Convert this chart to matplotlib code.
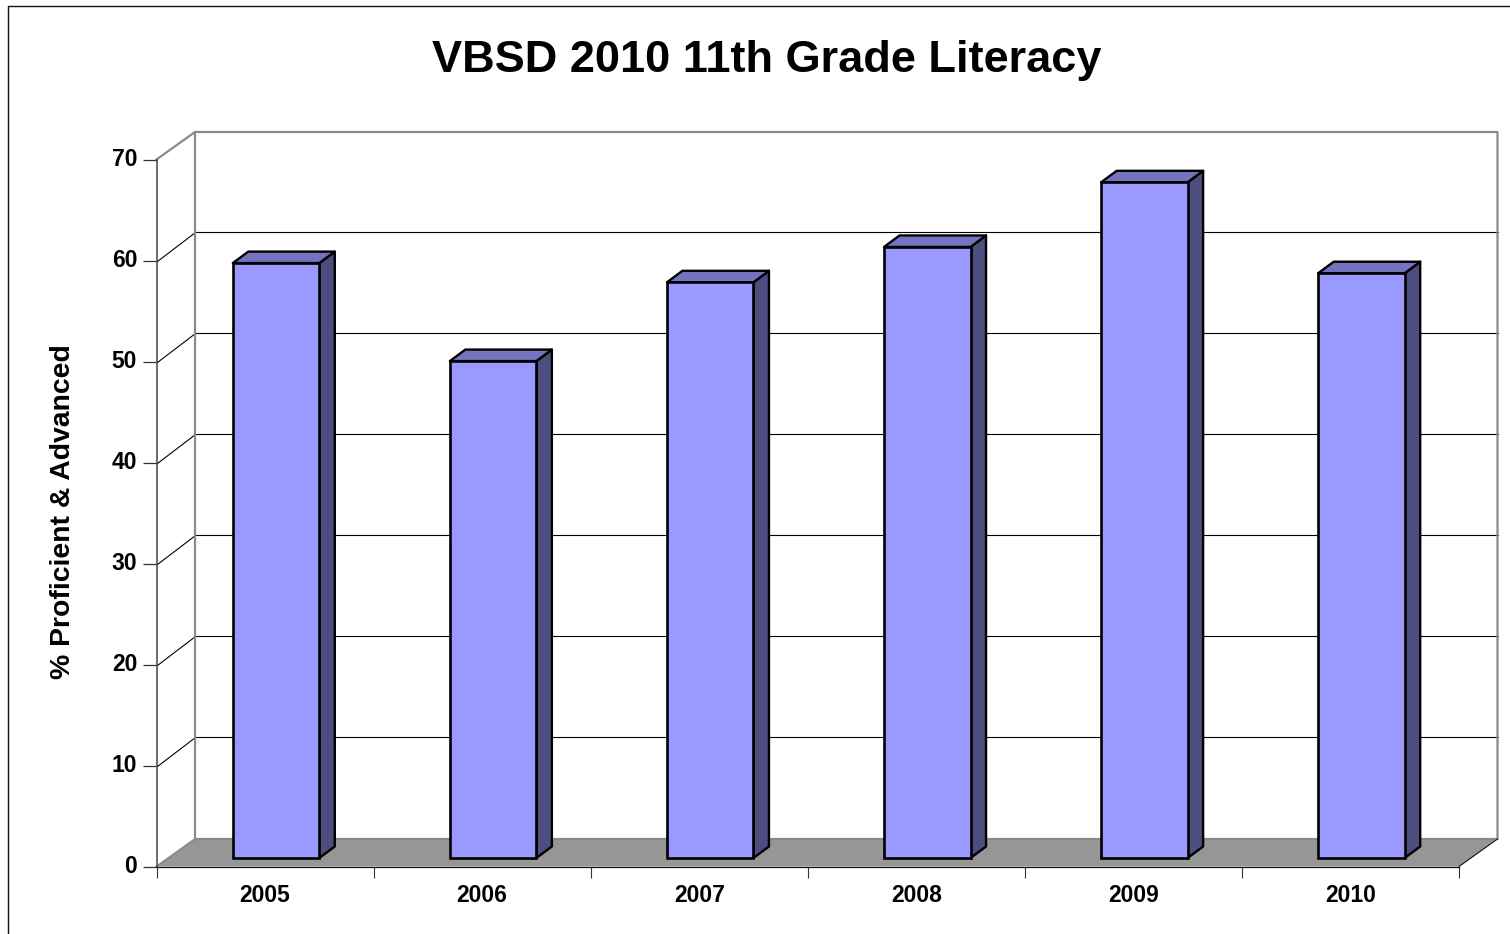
import matplotlib
matplotlib.use("Agg")
import matplotlib.pyplot as plt
from matplotlib.lines import Line2D
from matplotlib.patches import Polygon

years = ["2005", "2006", "2007", "2008", "2009", "2010"]
values = [58.9, 49.2, 57.0, 60.5, 66.9, 57.9]
y_ticks = [0, 10, 20, 30, 40, 50, 60, 70]
title = "VBSD 2010 11th Grade Literacy"
ylabel = "% Proficient & Advanced"

W, H = 1510, 934
plt.rcParams['font.family'] = ['Liberation Sans', 'DejaVu Sans']
fig = plt.figure(figsize=(W / 100, H / 100), dpi=100, facecolor='white')

# front plane of the pseudo-3D box, in pixels
L, R, B, T = 156.5, 1459, 866.5, 159.5
ax = fig.add_axes([L / W, 1 - B / H, (R - L) / W, (B - T) / H])
ax.set_xlim(0, 6)
ax.set_ylim(0, 70)
ax.patch.set_visible(False)

ux = (R - L) / 6      # px per category
uy = (B - T) / 70     # px per value unit
DX, DY = 38.5 / ux, 27.5 / uy      # box depth in data units
GDY = 28.8 / uy                    # gridline rise on the left wall
bdx, bdy = 15.5 / ux, 11.5 / uy    # bar depth in data units
bw = 86.5 / ux
xoff = 0.5 + 11.0 / ux
ybase = 8.5 / uy

WALL = '#8a8a8a'
# floor
ax.add_patch(Polygon([(0, 0), (DX, DY), (6 + DX, DY), (6, 0)], closed=True, fc='#969696', ec='none',
                     clip_on=False, zorder=1))
ax.plot([6, 6 + DX], [0, DY], color='#111111', lw=0.8, clip_on=False, zorder=1.5)
ax.plot([0, DX], [0, DY], color=WALL, lw=1.4, clip_on=False, zorder=1.5)

# gridlines on back wall and left wall
for v in y_ticks[1:-1]:
    ax.plot([0, DX, 6 + DX], [v, v + GDY, v + GDY], color='black', lw=0.8, clip_on=False, zorder=1.2,
            snap=True)

# wall outline
ax.plot([0, DX, 6 + DX, 6 + DX, DX, DX], [70, 70 + DY, 70 + DY, DY, DY, 70 + DY],
        color=WALL, lw=1.6, clip_on=False, zorder=1.3)

# bars
xs = [i + xoff for i in range(len(values))]
ax.bar(xs, values, width=bw, bottom=ybase, color='#9999FF', edgecolor='black', linewidth=1.9, zorder=3)
for x, v in zip(xs, values):
    x0, x1, y0, y1 = x - bw / 2, x + bw / 2, ybase, ybase + v
    ax.add_patch(Polygon([(x1, y0), (x1 + bdx, y0 + bdy), (x1 + bdx, y1 + bdy), (x1, y1)], closed=True,
                         fc='#4D4D80', ec='black', lw=1.7, joinstyle='round', clip_on=False, zorder=2.8))
    ax.add_patch(Polygon([(x0, y1), (x0 + bdx, y1 + bdy), (x1 + bdx, y1 + bdy), (x1, y1)], closed=True,
                         fc='#7373BF', ec='black', lw=1.7, joinstyle='round', clip_on=False, zorder=2.8))

# axes, ticks, labels
for s in ('top', 'right'):
    ax.spines[s].set_visible(False)
ax.spines['left'].set_color('#444444')
ax.spines['left'].set_linewidth(1.1)
ax.spines['bottom'].set_color('#111111')
ax.spines['bottom'].set_linewidth(0.9)
ax.spines['left'].set_zorder(2)
ax.spines['bottom'].set_zorder(2)
ax.set_yticks(y_ticks)
ax.set_yticklabels([str(v) for v in y_ticks], fontsize=16.5, fontweight='bold', color='black')
ax.tick_params(axis='y', length=10.4, width=0.9, color='#333333', pad=3.5)
for lab in ax.get_yticklabels():
    lab.set_verticalalignment('center')
ax.set_xticks(range(7))
ax.set_xticklabels([])
ax.set_xticks([i + 0.5 for i in range(6)], minor=True)
ax.set_xticklabels(years, minor=True, fontsize=16.5, fontweight='bold')
ax.tick_params(axis='x', which='major', length=7.6, width=0.8, color='#333333')
ax.tick_params(axis='x', which='minor', length=0, pad=12.5)

fig.text(766.5 / W, 1 - 60.5 / H, title, fontsize=32.5, fontweight='bold', ha='center', va='center')
fig.text(63 / W, 1 - 512 / H, ylabel, fontsize=20.4, fontweight='bold', rotation=90, ha='center', va='center')

# chart frame (right and bottom edges run off the image)
fig.add_artist(Line2D([8 / W, 8 / W, 1], [0, 1 - 5.5 / H, 1 - 5.5 / H], color='#111111', lw=1.0))

fig.savefig('out.png', dpi=100, facecolor='white')
